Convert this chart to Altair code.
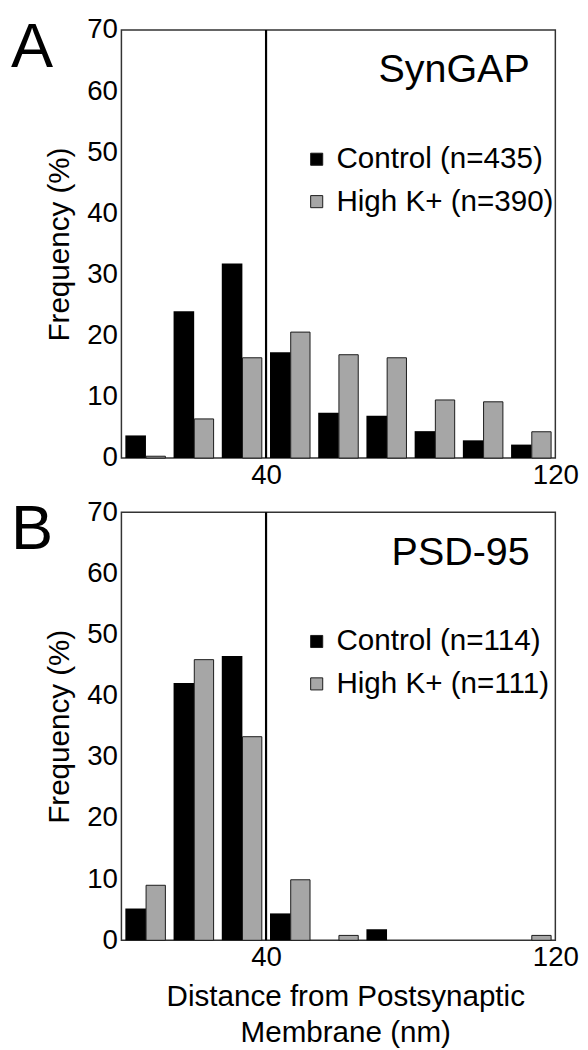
import altair as alt
import pandas as pd

# bin edges (nm)
bin_lo = [0, 13.333, 26.667, 40, 53.333, 66.667, 80, 93.333, 106.667]
bin_hi = [13.333, 26.667, 40, 53.333, 66.667, 80, 93.333, 106.667, 120]

# Frequencies (%)
syngap_control = [3.7, 24.0, 31.8, 17.3, 7.4, 6.9, 4.4, 2.9, 2.2]
syngap_highk = [0.3, 6.4, 16.4, 20.6, 16.9, 16.4, 9.5, 9.2, 4.3]
psd95_control = [5.2, 42.1, 46.5, 4.4, 0.0, 1.8, 0.0, 0.0, 0.0]
psd95_highk = [9.0, 45.9, 33.3, 9.9, 0.8, 0.0, 0.0, 0.0, 0.8]

y_ticks = [0, 10, 20, 30, 40, 50, 60, 70]
x_ticks = [40, 120]
marker_nm = [40]

FONT = "Liberation Sans"
W, H = 440, 434


def panel(letter, name, lab_c, lab_h, vals_c, vals_h, xtitle):
    df = pd.DataFrame({
        "lo": bin_lo + bin_lo,
        "hi": bin_hi + bin_hi,
        "pct": vals_c + vals_h,
        "group": [lab_c] * len(vals_c) + [lab_h] * len(vals_h),
    })
    xaxis = alt.Axis(values=x_ticks, title=xtitle, labelFlush=False,
                     titleX=227, titleFontSize=30, titleFont=FONT,
                     titleFontWeight="normal", titleColor="black",
                     titleLineHeight=37, titlePadding=10)
    x = alt.X("lo:Q", scale=alt.Scale(domain=[0, 120], nice=False, zero=False),
              axis=xaxis)
    y = alt.Y("pct:Q", scale=alt.Scale(domain=[0, 70], nice=False),
              axis=alt.Axis(values=y_ticks, title="Frequency (%)",
                            titleFontSize=30, titleFont=FONT,
                            titleFontWeight="normal", titleColor="black",
                            titlePadding=12))
    color = alt.Color("group:N",
                      scale=alt.Scale(domain=[lab_c, lab_h],
                                      range=["#000000", "#a6a6a6"]),
                      legend=alt.Legend(orient="none", legendX=183, legendY=116,
                                        title=None, symbolType="square",
                                        symbolSize=150,
                                        symbolStrokeColor="#1a1a1a",
                                        symbolStrokeWidth=1,
                                        labelFont=FONT, labelFontSize=30,
                                        labelColor="black", labelOffset=5,
                                        rowPadding=13, padding=0,
                                        labelLimit=400))
    base = alt.Chart(df).transform_filter(alt.datum.pct > 0)
    black = base.transform_filter(alt.datum.group == lab_c).mark_bar(
        xOffset=4, x2Offset=-24, strokeWidth=0
    ).encode(x=x, x2="hi:Q", y=y, y2=alt.datum(0), color=color)
    gray = base.transform_filter(alt.datum.group == lab_h).mark_bar(
        xOffset=25, x2Offset=-4.3, stroke="#1a1a1a", strokeWidth=1
    ).encode(x=x, x2="hi:Q", y=y, y2=alt.datum(0), color=color)
    rule = alt.Chart(pd.DataFrame({"lo": marker_nm})).mark_rule(
        color="black", strokeWidth=2.2
    ).encode(x=alt.X("lo:Q"))
    lab = alt.Chart(pd.DataFrame({"t": [letter]})).mark_text(
        font=FONT, fontSize=64, align="left", baseline="top", color="black"
    ).encode(x=alt.value(-112), y=alt.value(-14), text="t:N")
    nm = alt.Chart(pd.DataFrame({"t": [name]})).mark_text(
        font=FONT, fontSize=40, align="right", baseline="alphabetic", color="black"
    ).encode(x=alt.value(414), y=alt.value(53), text="t:N")
    return alt.layer(black, gray, rule, lab, nm).properties(width=W, height=H)


pa = panel("A", "SynGAP", "Control (n=435)", "High K+ (n=390)",
           syngap_control, syngap_highk, None)
pb = panel("B", "PSD-95", "Control (n=114)", "High K+ (n=111)",
           psd95_control, psd95_highk,
           ["Distance from Postsynaptic", "Membrane (nm)"])

chart = alt.vconcat(pa, pb, spacing=55, bounds="flush").resolve_scale(
    color="independent"
).resolve_legend(color="independent").properties(
    padding={"left": 2, "top": 0, "right": 0, "bottom": 3}
).configure_view(
    stroke="#333333", strokeWidth=1.5
).configure_axis(
    labelFont=FONT, labelFontSize=28, labelColor="black", labelPadding=4,
    ticks=False, domain=False, grid=False
)

chart.save("out.html", embed_options={"renderer": "svg", "actions": False})
